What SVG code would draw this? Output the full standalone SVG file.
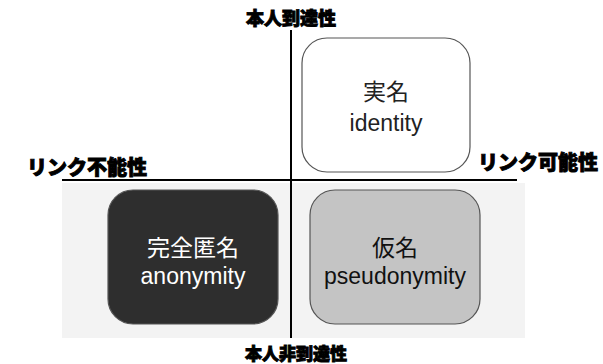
<svg xmlns="http://www.w3.org/2000/svg" width="603" height="364" viewBox="0 0 603 364">
<style>
.axis{font-family:"Noto Sans CJK JP","Noto Sans CJK SC",sans-serif;font-weight:900;fill:#000;stroke:#000;stroke-width:0.9;paint-order:stroke}
.lbl{font-family:"Liberation Sans","Noto Sans CJK JP",sans-serif;font-size:23px;text-anchor:middle}
.box{stroke:#555;stroke-width:1.2}
.ln{stroke:#000;stroke-width:2;fill:none}
</style>
<rect x="62" y="183" width="463" height="155" fill="#f3f3f3"/>
<g id="connectors">
<line class="ln" x1="291" y1="30" x2="291" y2="338"/>
<line class="ln" x1="62" y1="180" x2="517" y2="180"/>
</g>
<g id="identity">
<rect class="box" x="302" y="38" width="168" height="134" rx="25" fill="#fff"/>
<text class="lbl" x="386" y="100" fill="#222">実名</text>
<text class="lbl" x="386" y="131" fill="#222">identity</text>
</g>
<g id="anonymity">
<rect class="box" x="108" y="190" width="170" height="134" rx="25" fill="#2e2e2e"/>
<text class="lbl" x="193" y="256" fill="#fff">完全匿名</text>
<text class="lbl" x="193" y="284" fill="#fff">anonymity</text>
</g>
<g id="pseudonymity">
<rect class="box" x="310" y="190" width="170" height="134" rx="25" fill="#c4c4c4"/>
<text class="lbl" x="395" y="256" fill="#111">仮名</text>
<text class="lbl" x="395" y="284" fill="#111">pseudonymity</text>
</g>
<g id="axis-labels">
<text class="axis" x="291" y="25" font-size="18" text-anchor="middle">本人到達性</text>
<text class="axis" x="296" y="360" font-size="17" text-anchor="middle">本人非到達性</text>
<text class="axis" x="27" y="175" font-size="20">リンク不能性</text>
<text class="axis" x="478" y="170" font-size="20">リンク可能性</text>
</g>
</svg>
